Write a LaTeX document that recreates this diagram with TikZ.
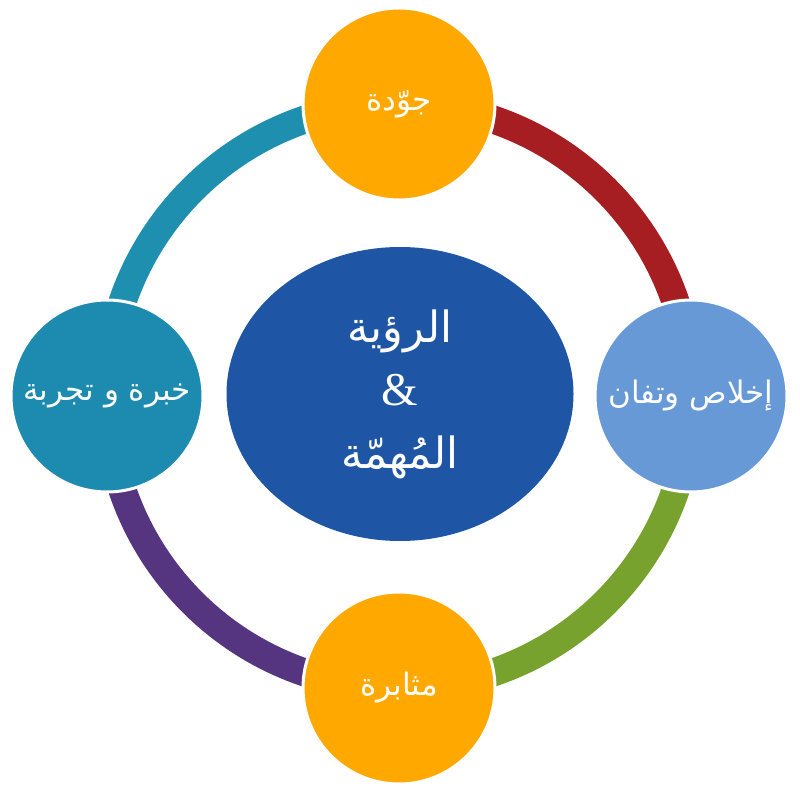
\documentclass[tikz,border=0pt]{standalone}
\usepackage{fontspec}
\TeXXeTstate=1
\newfontfamily\arabicfont[Script=Arabic]{DejaVu Sans}
\newfontfamily\amperfont{Liberation Serif}
\definecolor{ringred}{HTML}{A61E22}
\definecolor{ringgreen}{HTML}{77A22D}
\definecolor{ringpurple}{HTML}{55357F}
\definecolor{ringteal}{HTML}{1F8FB0}
\definecolor{orangefill}{HTML}{FFA800}
\definecolor{lightblue}{HTML}{6699D5}
\definecolor{tealfill}{HTML}{1C8BAF}
\definecolor{deepblue}{HTML}{1F55A5}
\usetikzlibrary{shapes.geometric}
\tikzset{
  ringarc/.style={line width=28pt},
  satellite/.style={circle, draw=white, line width=3pt, minimum size=192pt, inner sep=0pt,
    text=white, font=\arabicfont\fontsize{31}{36}\selectfont},
  hub/.style={ellipse, fill=deepblue, minimum width=347pt, minimum height=294pt, inner sep=0pt,
    text=white, align=center, font=\arabicfont\fontsize{43}{63}\selectfont}
}
\begin{document}
\begin{tikzpicture}[x=1pt,y=1pt]
\useasboundingbox (0,0) rectangle (800,793);
\coordinate (c) at (399,397);
\draw[ringarc, ringred] ([shift={(0:292)}]c) arc[start angle=0, end angle=90, radius=292];
\draw[ringarc, ringteal] ([shift={(90:292)}]c) arc[start angle=90, end angle=180, radius=292];
\draw[ringarc, ringpurple] ([shift={(180:292)}]c) arc[start angle=180, end angle=270, radius=292];
\draw[ringarc, ringgreen] ([shift={(270:292)}]c) arc[start angle=270, end angle=360, radius=292];
\node[satellite, fill=orangefill] (top) at ([shift={(90:292)}]c) {\beginR جوّدة\endR};
\node[satellite, fill=lightblue] (right) at ([shift={(0:292)}]c) {\beginR إخلاص وتفان\endR};
\node[satellite, fill=orangefill] (bottom) at ([shift={(270:292)}]c) {\beginR مثابرة\endR};
\node[satellite, fill=tealfill] (left) at ([shift={(180:292)}]c) {\beginR خبرة و تجربة\endR};
\node[hub] (center) at (400,399) {\beginR الرؤية\endR\\
  {\amperfont\fontsize{47}{63}\selectfont\&}\\
  \beginR المُهمّة\endR};
\end{tikzpicture}
\end{document}
